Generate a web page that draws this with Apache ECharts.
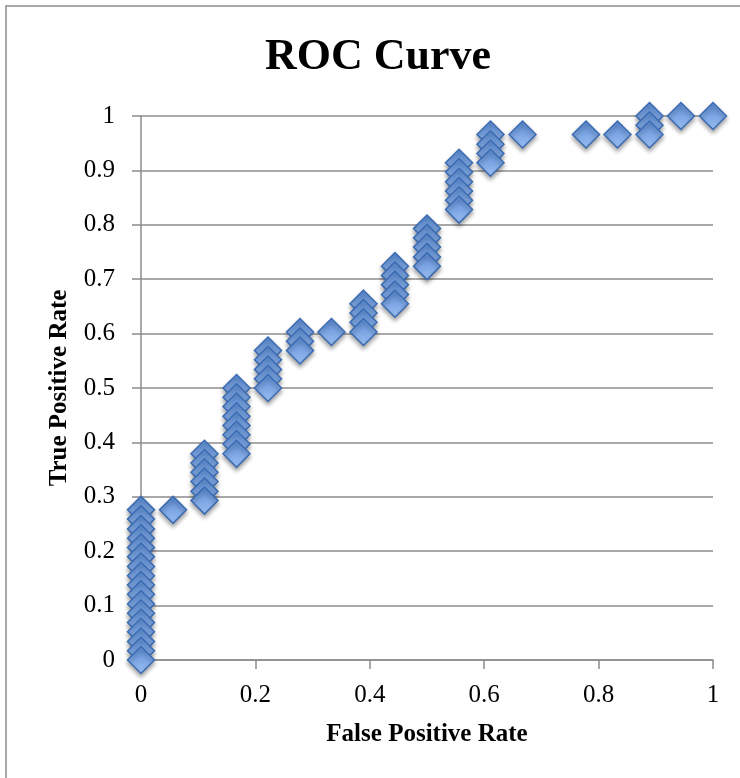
<!DOCTYPE html>
<html>
<head>
<meta charset="utf-8">
<script src="https://cdn.jsdelivr.net/npm/echarts@6/dist/echarts.min.js"></script>
<style>
html,body{margin:0;padding:0;background:#fff;}
#chart{width:740px;height:778px;}
</style>
</head>
<body>
<div id="chart"></div>
<script>
// Points listed from the top of the curve down, so lower markers sit on top (as in the reference)
const fpr = [
  1.000, 0.944,
  0.889, 0.889, 0.889,
  0.833, 0.778, 0.667,
  0.611, 0.611, 0.611, 0.611,
  0.556, 0.556, 0.556, 0.556, 0.556, 0.556,
  0.500, 0.500, 0.500, 0.500, 0.500,
  0.444, 0.444, 0.444, 0.444, 0.444,
  0.389, 0.389, 0.389, 0.389,
  0.333,
  0.278, 0.278, 0.278,
  0.222, 0.222, 0.222, 0.222, 0.222,
  0.167, 0.167, 0.167, 0.167, 0.167, 0.167, 0.167, 0.167,
  0.111, 0.111, 0.111, 0.111, 0.111, 0.111,
  0.056,
  0, 0, 0, 0, 0, 0, 0, 0, 0, 0, 0, 0, 0, 0, 0, 0, 0
];
const tpr = [
  1.000, 1.000,
  1.000, 0.983, 0.966,
  0.966, 0.966, 0.966,
  0.966, 0.948, 0.931, 0.914,
  0.914, 0.897, 0.879, 0.862, 0.845, 0.828,
  0.793, 0.776, 0.759, 0.741, 0.724,
  0.724, 0.707, 0.690, 0.672, 0.655,
  0.655, 0.638, 0.621, 0.603,
  0.603,
  0.603, 0.586, 0.569,
  0.569, 0.552, 0.534, 0.517, 0.500,
  0.500, 0.483, 0.466, 0.448, 0.431, 0.414, 0.397, 0.379,
  0.379, 0.362, 0.345, 0.328, 0.310, 0.293,
  0.276,
  0.276, 0.259, 0.241, 0.224, 0.207, 0.190, 0.172, 0.155, 0.138, 0.121, 0.103, 0.086, 0.069, 0.052, 0.034, 0.017, 0
];
const chartTitle = 'ROC Curve';
const xName = 'False Positive Rate';
const yName = 'True Positive Rate';

const points = fpr.map((x, i) => [x, tpr[i]]);

const chart = echarts.init(document.getElementById('chart'), null, {renderer: 'canvas'});
const serif = '"Liberation Serif", "DejaVu Serif", serif';
const gray = '#8c8c8c';

chart.setOption({
  animation: false,
  backgroundColor: '#ffffff',
  grid: {left: 141, right: 27, top: 116, bottom: 118, containLabel: false},
  graphic: [
    {type: 'rect', shape: {x: 6, y: 6, width: 780, height: 800},
     style: {fill: 'none', stroke: gray, lineWidth: 1.5}, silent: true},
    {type: 'text', x: 378, y: 58,
     style: {text: chartTitle, font: 'bold 44px ' + serif, fill: '#000',
             textAlign: 'center', textVerticalAlign: 'middle'}}
  ],
  xAxis: {
    type: 'value', min: 0, max: 1, interval: 0.2,
    name: xName, nameLocation: 'middle', nameGap: 62,
    nameTextStyle: {fontFamily: serif, fontWeight: 'bold', fontSize: 25, color: '#000'},
    axisLine: {show: true, onZero: false, lineStyle: {color: gray, width: 1.5}},
    axisTick: {show: true, length: 9, lineStyle: {color: gray, width: 1.5}},
    axisLabel: {margin: 23, fontFamily: serif, fontSize: 25, color: '#000'},
    splitLine: {show: false}
  },
  yAxis: {
    type: 'value', min: 0, max: 1, interval: 0.1,
    name: yName, nameLocation: 'middle', nameGap: 69,
    nameTextStyle: {fontFamily: serif, fontWeight: 'bold', fontSize: 25, color: '#000'},
    axisLine: {show: true, onZero: false, lineStyle: {color: gray, width: 1.5}},
    axisTick: {show: true, length: 9, lineStyle: {color: gray, width: 1.5}},
    axisLabel: {margin: 26, fontFamily: serif, fontSize: 25, color: '#000'},
    splitLine: {show: true, lineStyle: {color: gray, width: 1.5}}
  },
  series: [{
    type: 'scatter',
    data: points,
    symbol: 'diamond',
    symbolSize: [27, 27],
    itemStyle: {
      opacity: 1,
      color: new echarts.graphic.LinearGradient(0, 0, 0, 1, [
        {offset: 0, color: '#5a8bd5'},
        {offset: 1, color: '#9dc0f2'}
      ]),
      borderColor: '#3b6cb3',
      borderWidth: 1.5,
      shadowColor: 'rgba(0,0,0,0.35)',
      shadowBlur: 4,
      shadowOffsetY: 3
    }
  }]
});
</script>
</body>
</html>
